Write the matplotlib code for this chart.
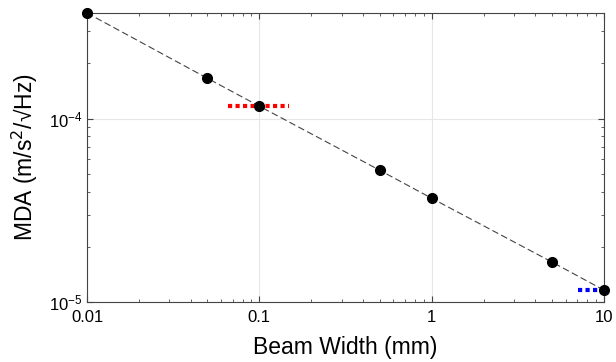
import numpy as np
import matplotlib
matplotlib.use('Agg')
import matplotlib.pyplot as plt
from matplotlib.ticker import FuncFormatter, NullFormatter, LogLocator

plt.rcParams['font.family'] = ['Liberation Sans', 'DejaVu Sans']

# beam width (mm) and MDA (m/s^2/sqrt(Hz))
width = [0.01, 0.05, 0.1, 0.5, 1, 5, 10]
mda = [3.77e-4, 1.66e-4, 1.17e-4, 5.23e-5, 3.68e-5, 1.65e-5, 1.16e-5]

red_x = [0.066, 0.149]
red_y = [1.17e-4, 1.17e-4]
blue_x = [7.05, 10]
blue_y = [1.16e-5, 1.16e-5]

fig = plt.figure(figsize=(6.16, 3.62), dpi=100)
ax = fig.add_axes([87/616, 60/362, 517/616, 289/362])

ax.plot(width, mda, color='#444444', linestyle=(0, (6, 3)), linewidth=0.8)
ax.plot(width, mda, color='black', marker='o', markersize=7, linestyle='None', clip_on=False, zorder=5)
ax.plot(red_x, red_y, color='red', linestyle=(0, (1, 0.8)), linewidth=3)
ax.plot(blue_x, blue_y, color='blue', linestyle=(0, (1, 0.8)), linewidth=3, clip_on=False)

ax.set_xscale('log')
ax.set_yscale('log')
ax.set_xlim(0.01, 10)
ax.set_ylim(1e-5, 3.77e-4)

ax.xaxis.set_major_formatter(FuncFormatter(lambda v, p: '{:g}'.format(v)))
ax.xaxis.set_minor_formatter(NullFormatter())
ax.yaxis.set_minor_formatter(NullFormatter())
ax.yaxis.set_minor_locator(LogLocator(base=10, subs=np.arange(2, 10)))

ax.grid(True, which='major', color='#e6e6e6', linewidth=0.8)
ax.tick_params(which='both', direction='in', top=True, right=True, colors='#444444', labelcolor='black', labelsize=12)
ax.tick_params(axis='x', which='major', pad=6)
ax.tick_params(which='major', length=4)
ax.tick_params(which='minor', length=2)
for s in ax.spines.values():
    s.set_color('#444444')

ax.set_xlabel('Beam Width (mm)', fontsize=16.5, labelpad=8)
ax.set_ylabel('MDA (m/s$^2$/√Hz)', fontsize=16.5, labelpad=6)

fig.savefig('out.png', dpi=100)
